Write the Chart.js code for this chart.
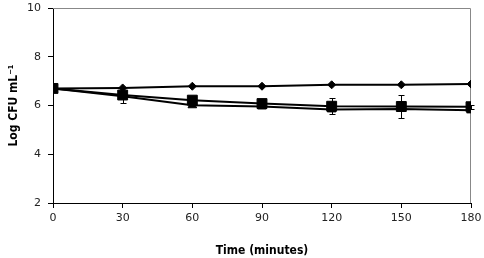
<!DOCTYPE html>
<html>
<head>
<meta charset="utf-8">
<script src="https://cdn.jsdelivr.net/npm/chart.js@4"></script>
<style>
html,body{margin:0;padding:0;background:#fff;}
#wrap{width:484px;height:258px;position:relative;}
</style>
</head>
<body>
<div id="wrap"><canvas id="c"></canvas></div>
<script>
const timeMinutes = [0, 30, 60, 90, 120, 150, 180];
const diamondSeries = [6.70, 6.72, 6.79, 6.79, 6.85, 6.85, 6.88];
const squareSeries = [6.70, 6.43, 6.22, 6.08, 5.97, 5.96, 5.95];
const triangleSeries = [6.70, 6.38, 6.01, 5.96, 5.84, 5.86, 5.80];
const squareError = [0, 0.33, 0.06, 0.06, 0.32, 0.48, 0.08];
const yTicks = [2, 4, 6, 8, 10];

const pts = (arr) => arr.map((v, i) => ({x: timeMinutes[i], y: v}));

const boxAndErrors = {
  id: 'boxAndErrors',
  beforeDatasetsDraw(chart) {
    const {ctx, chartArea: a, scales: {x, y}} = chart;
    ctx.save();
    ctx.strokeStyle = '#888';
    ctx.lineWidth = 1;
    ctx.beginPath();
    ctx.moveTo(a.left, a.top + 0.5);
    ctx.lineTo(a.right - 0.5, a.top + 0.5);
    ctx.lineTo(a.right - 0.5, a.bottom);
    ctx.stroke();
    ctx.strokeStyle = '#000';
    ctx.lineWidth = 1;
    squareError.forEach((e, i) => {
      if (!e) return;
      const px = Math.round(x.getPixelForValue(timeMinutes[i])) + 0.5;
      const y1 = Math.round(y.getPixelForValue(squareSeries[i] + e)) + 0.5;
      const y2 = Math.round(y.getPixelForValue(squareSeries[i] - e)) + 0.5;
      ctx.beginPath();
      ctx.moveTo(px, y1); ctx.lineTo(px, y2);
      ctx.moveTo(px - 3, y1); ctx.lineTo(px + 3, y1);
      ctx.moveTo(px - 3, y2); ctx.lineTo(px + 3, y2);
      ctx.stroke();
    });
    ctx.restore();
  }
};

new Chart(document.getElementById('c'), {
  type: 'line',
  data: {
    datasets: [
      {data: pts(triangleSeries), borderColor: '#000', backgroundColor: '#000', borderWidth: 2,
       pointStyle: 'triangle', pointRadius: 5, pointBorderWidth: 1, tension: 0},
      {data: pts(squareSeries), borderColor: '#000', backgroundColor: '#000', borderWidth: 2,
       pointStyle: 'rect', pointRadius: 7, pointBorderWidth: 1, tension: 0},
      {data: pts(diamondSeries), borderColor: '#000', backgroundColor: '#000', borderWidth: 2,
       pointStyle: 'rectRot', pointRadius: 4, pointBorderWidth: 1, tension: 0}
    ]
  },
  options: {
    responsive: true,
    maintainAspectRatio: false,
    animation: false,
    layout: {padding: {left: 0, right: 13, top: 7, bottom: 0}},
    plugins: {legend: {display: false}, tooltip: {enabled: false}},
    scales: {
      x: {
        type: 'linear', min: 0, max: 180,
        afterBuildTicks: (ax) => { ax.ticks = timeMinutes.map(v => ({value: v})); },
        afterFit: (ax) => { ax.height = 55; ax.paddingLeft = 0; ax.paddingRight = 0; },
        grid: {drawOnChartArea: false, drawTicks: true, tickLength: 5, color: '#000'},
        border: {color: '#000', width: 1},
        ticks: {color: '#222', font: {family: 'DejaVu Sans', size: 11}, padding: 4, maxRotation: 0},
        title: {display: true, text: 'Time (minutes)', color: '#000',
                font: {family: 'DejaVu Sans Condensed', size: 12, weight: 'bold'}, padding: {top: 15, bottom: 0}}
      },
      y: {
        type: 'linear', min: 2, max: 10,
        afterBuildTicks: (ax) => { ax.ticks = yTicks.map(v => ({value: v})); },
        afterFit: (ax) => { ax.width = 53; ax.paddingTop = 0; ax.paddingBottom = 0; },
        grid: {drawOnChartArea: false, drawTicks: true, tickLength: 5, color: '#000'},
        border: {color: '#000', width: 1},
        ticks: {color: '#222', font: {family: 'DejaVu Sans', size: 11}, padding: 7},
        title: {display: true, text: 'Log CFU mL\u207B\u00B9', color: '#000',
                font: {family: 'DejaVu Sans Condensed', size: 12, weight: 'bold'}, padding: {top: 7, bottom: 0}}
      }
    }
  },
  plugins: [boxAndErrors]
});
</script>
</body>
</html>
